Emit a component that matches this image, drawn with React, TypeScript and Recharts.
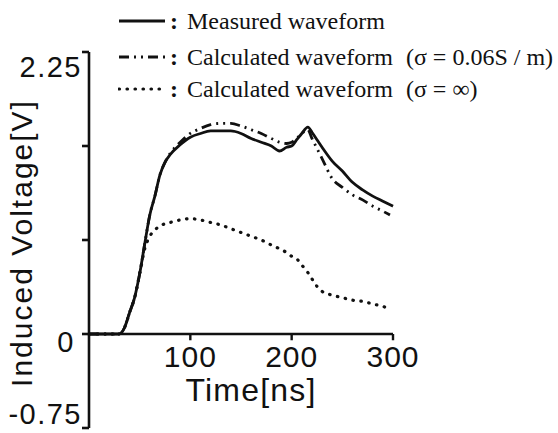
import React from 'react';
import { LineChart, Line, XAxis, YAxis, ReferenceLine, Legend } from 'recharts';

// Time axis samples [ns]
const time = [0, 10, 20, 30, 35, 40, 45, 50, 55, 60, 65, 70, 75, 80, 90, 100, 110, 120, 130, 140, 150, 160, 170, 180, 188, 195, 200, 205, 210, 216, 220, 225, 230, 240, 250, 260, 270, 280, 290, 297, 300];

// Induced voltage [V]
const measured = [0, 0, 0, 0, 0.05, 0.17, 0.29, 0.48, 0.72, 0.95, 1.1, 1.27, 1.37, 1.43, 1.51, 1.57, 1.6, 1.62, 1.62, 1.62, 1.6, 1.56, 1.53, 1.5, 1.46, 1.49, 1.5, 1.55, 1.6, 1.65, 1.61, 1.55, 1.49, 1.38, 1.3, 1.21, 1.15, 1.1, 1.06, null, 1.02];
const calcFinite = [0, 0, 0, 0, 0.05, 0.17, 0.29, 0.48, 0.72, 0.95, 1.1, 1.27, 1.37, 1.44, 1.53, 1.6, 1.64, 1.67, 1.68, 1.68, 1.66, 1.63, 1.6, 1.56, 1.53, 1.52, 1.53, 1.56, 1.6, 1.63, 1.56, 1.48, 1.4, 1.24, 1.17, 1.11, 1.07, 1.02, 0.98, 0.95, null];
const calcInfinite = [0, 0, 0, 0, 0.05, 0.17, 0.29, 0.48, 0.68, 0.78, 0.83, 0.86, 0.88, 0.89, 0.91, 0.92, 0.91, 0.89, 0.87, 0.84, 0.81, 0.78, 0.75, 0.71, 0.68, 0.65, 0.62, 0.6, 0.55, 0.49, 0.44, 0.38, 0.34, 0.31, 0.29, 0.27, 0.26, 0.24, 0.22, 0.2, null];

const yTicks = [-0.75, 0, 0.75, 1.5, 2.25];
const yTickLabels = ['-0.75', '0', '', '', '2.25'];
const xTicks = [100, 200, 300];

const legendLabels = ['Measured waveform', 'Calculated waveform', 'Calculated waveform'];
const legendNotes = ['', '(\u03c3 = 0.06S / m)', '(\u03c3 = \u221e)'];

const rows = time.map((t, i) => ({
  t,
  measured: measured[i],
  calcFinite: calcFinite[i],
  calcInfinite: calcInfinite[i],
}));

const INK = '#111';
const SANS = '"Liberation Sans", Arial, Helvetica, sans-serif';
const SERIF = '"Liberation Serif", "Times New Roman", serif';

const DASH_DOT = '10 5 2 5 2 5';
const DOTS = '0.5 7.5';

const seriesStyles = [
  { key: 'measured', dash: undefined as string | undefined, width: 2.8, cap: 'butt' as const },
  { key: 'calcFinite', dash: DASH_DOT, width: 2.8, cap: 'butt' as const },
  { key: 'calcInfinite', dash: DOTS, width: 3.2, cap: 'round' as const },
];

// per-label nudges for the y tick texts
const yLabelShift: Record<string, { dx: number; dy: number }> = {
  '2.25': { dx: 2, dy: 15 },
  '0': { dx: -5, dy: 8 },
  '-0.75': { dx: 2, dy: -14 },
};

const YTick = (props: any) => {
  const { x, y, payload } = props;
  const idx = yTicks.indexOf(payload.value);
  const text = idx >= 0 ? yTickLabels[idx] : '';
  if (!text) return <g />;
  const s = yLabelShift[text] || { dx: 0, dy: 0 };
  return (
    <text
      x={x + s.dx}
      y={y + s.dy}
      textAnchor="end"
      dominantBaseline="central"
      fill={INK}
      fontFamily={SANS}
      fontSize={29}
      style={{ letterSpacing: 1.5 }}
    >
      {text}
    </text>
  );
};

const LegendBlock = () => {
  const rowCenters = [21, 57, 89];
  return (
    <div style={{ position: 'relative', width: 558, height: 104 }}>
      {legendLabels.map((label, i) => (
        <div
          key={i}
          style={{
            position: 'absolute',
            left: 118,
            top: rowCenters[i] - 15,
            height: 30,
            display: 'flex',
            alignItems: 'center',
            whiteSpace: 'pre',
            fontFamily: SERIF,
            fontSize: 24,
            color: INK,
          }}
        >
          <svg width={48} height={12} style={{ display: 'block' }}>
            <line
              x1={1}
              y1={6}
              x2={47}
              y2={6}
              stroke={INK}
              strokeWidth={seriesStyles[i].width}
              strokeDasharray={seriesStyles[i].dash}
              strokeLinecap={seriesStyles[i].cap}
            />
          </svg>
          <span style={{ marginLeft: 4, fontWeight: 700 }}>:</span>
          <span style={{ marginLeft: 9 }}>{label}</span>
          {legendNotes[i] ? <span style={{ marginLeft: 13 }}>{legendNotes[i]}</span> : null}
        </div>
      ))}
    </div>
  );
};

export default function App() {
  return (
    <div style={{ position: 'absolute', left: 0, top: 0, width: 558, height: 433, background: '#fff' }}>
      <LineChart
        width={558}
        height={433}
        data={rows}
        margin={{ top: 52, right: 165, bottom: 5, left: 9 }}
      >
        <XAxis type="number" dataKey="t" domain={[0, 300]} hide />
        <YAxis
          type="number"
          domain={[-0.75, 2.25]}
          ticks={yTicks}
          interval={0}
          width={80}
          tickSize={7}
          axisLine={{ stroke: INK, strokeWidth: 2.6 }}
          tickLine={{ stroke: INK, strokeWidth: 2.6 }}
          tick={<YTick />}
          label={{
            value: 'Induced Voltage[V]',
            angle: -90,
            position: 'insideLeft',
            offset: 12,
            dy: 3,
            style: { textAnchor: 'middle', fontFamily: SANS, fontSize: 30, fill: INK, letterSpacing: 2 },
          }}
        />
        <ReferenceLine
          y={0}
          stroke={INK}
          strokeWidth={2.6}
          label={{
            value: 'Time[ns]',
            position: 'bottom',
            offset: 44,
            dx: 10,
            style: { fontFamily: SANS, fontSize: 32, fill: INK, letterSpacing: 1.2 },
          }}
        />
        {xTicks.map((v) => (
          <ReferenceLine
            key={v}
            segment={[{ x: v, y: 0 }, { x: v, y: -0.05 }]}
            stroke={INK}
            strokeWidth={2.4}
            label={{
              value: String(v),
              position: 'bottom',
              offset: 5,
              style: { fontFamily: SANS, fontSize: 30, fill: INK, letterSpacing: 1 },
            }}
          />
        ))}
        {seriesStyles.map((s) => (
          <Line
            key={s.key}
            type="monotone"
            dataKey={s.key}
            stroke={INK}
            strokeWidth={s.width}
            strokeDasharray={s.dash}
            strokeLinecap={s.cap}
            dot={false}
            activeDot={false}
            connectNulls
            isAnimationActive={false}
          />
        ))}
        <Legend
          layout="vertical"
          align="center"
          verticalAlign="middle"
          wrapperStyle={{ left: 0, top: 0, width: 558, height: 104 }}
          content={() => <LegendBlock />}
        />
      </LineChart>
    </div>
  );
}
